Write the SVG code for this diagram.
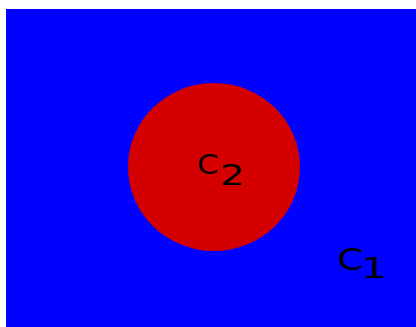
<svg xmlns="http://www.w3.org/2000/svg" width="416" height="327" viewBox="0 0 416 327">
<style>
text { font-family: "DejaVu Sans", sans-serif; fill: #000; }
</style>
<rect width="416" height="327" fill="#fff"/>
<g id="c1">
<rect x="6" y="9" width="410" height="318" fill="#0000ff"/>
<text font-size="29.8" transform="translate(337.2,270.3) scale(1.256,1)">C</text>
<text font-size="27.6" transform="translate(361.3,278) scale(1.46,1)">1</text>
</g>
<g id="c2">
<ellipse cx="214" cy="167" rx="86" ry="84" fill="#d40000"/>
<text font-size="26.5" transform="translate(197,174.3) scale(1.165,1)">C</text>
<text font-size="28.4" transform="translate(219.9,185) scale(1.365,1)">2</text>
</g>
</svg>
